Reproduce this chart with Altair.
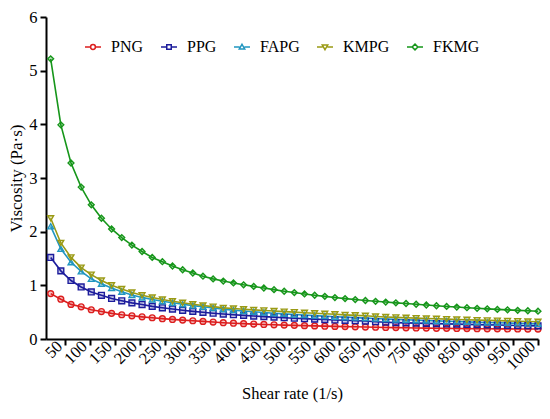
import altair as alt
import pandas as pd

SERIES = ["PNG", "PPG", "FAPG", "KMPG", "FKMG"]
COLORS = ["#dc1e1e", "#1c1c9c", "#2196c0", "#9a9a14", "#16961a"]
SHAPES = ["circle", "square", "triangle-up", "triangle-down", "diamond"]
FILL_OPACITY = [0.25, 0.25, 0.25, 0.25, 1.0]

RATE = [21.4, 41.8, 62.2, 82.6, 102.9, 123.3, 143.7, 164.1, 184.5, 204.9,
        225.3, 245.7, 266.0, 286.4, 306.8, 327.2, 347.6, 368.0, 388.4, 408.8,
        429.1, 449.5, 469.9, 490.3, 510.7, 531.1, 551.5, 571.9, 592.2, 612.6,
        633.0, 653.4, 673.8, 694.2, 714.6, 735.0, 755.3, 775.7, 796.1, 816.5,
        836.9, 857.3, 877.7, 898.1, 918.4, 938.8, 959.2, 979.6, 1000.0]

PNG = [0.846, 0.741, 0.645, 0.600, 0.545, 0.512, 0.478, 0.452, 0.432, 0.413,
       0.396, 0.379, 0.365, 0.352, 0.340, 0.328, 0.316, 0.303, 0.294, 0.286,
       0.278, 0.271, 0.265, 0.259, 0.254, 0.249, 0.244, 0.239, 0.235, 0.231,
       0.227, 0.223, 0.219, 0.215, 0.212, 0.209, 0.206, 0.203, 0.200, 0.198,
       0.196, 0.194, 0.192, 0.190, 0.189, 0.188, 0.187, 0.186, 0.185]

PPG = [1.52, 1.27, 1.09, 0.970, 0.876, 0.815, 0.755, 0.712, 0.673, 0.642,
       0.608, 0.582, 0.558, 0.535, 0.515, 0.497, 0.480, 0.465, 0.452, 0.440,
       0.428, 0.417, 0.407, 0.397, 0.388, 0.379, 0.371, 0.363, 0.355, 0.348,
       0.341, 0.334, 0.322, 0.312, 0.306, 0.301, 0.296, 0.291, 0.286, 0.281,
       0.277, 0.272, 0.268, 0.264, 0.260, 0.256, 0.252, 0.248, 0.244]

FAPG = [2.10, 1.68, 1.43, 1.26, 1.12, 1.03, 0.950, 0.880, 0.820, 0.775,
        0.737, 0.705, 0.675, 0.647, 0.622, 0.600, 0.578, 0.556, 0.538, 0.522,
        0.507, 0.493, 0.480, 0.468, 0.457, 0.446, 0.436, 0.426, 0.416, 0.407,
        0.398, 0.389, 0.381, 0.373, 0.365, 0.358, 0.351, 0.344, 0.337, 0.331,
        0.325, 0.319, 0.313, 0.307, 0.302, 0.297, 0.292, 0.287, 0.282]

KMPG = [2.25, 1.79, 1.52, 1.33, 1.20, 1.09, 1.00, 0.930, 0.865, 0.815,
        0.772, 0.735, 0.704, 0.675, 0.648, 0.625, 0.603, 0.580, 0.567, 0.555,
        0.543, 0.532, 0.521, 0.510, 0.500, 0.490, 0.480, 0.470, 0.460, 0.450,
        0.441, 0.432, 0.420, 0.410, 0.403, 0.396, 0.389, 0.382, 0.376, 0.370,
        0.364, 0.358, 0.352, 0.347, 0.342, 0.337, 0.332, 0.327, 0.322]

FKMG = [5.22, 3.99, 3.28, 2.83, 2.50, 2.25, 2.05, 1.89, 1.75, 1.63,
        1.52, 1.44, 1.36, 1.29, 1.23, 1.17, 1.12, 1.08, 1.045, 1.01,
        0.980, 0.950, 0.920, 0.890, 0.865, 0.840, 0.815, 0.795, 0.772, 0.753,
        0.735, 0.717, 0.702, 0.688, 0.674, 0.661, 0.648, 0.634, 0.620, 0.607,
        0.595, 0.583, 0.572, 0.562, 0.552, 0.543, 0.534, 0.526, 0.518]

X_TICKS = list(range(50, 1001, 50))
Y_TICKS = [0, 1, 2, 3, 4, 5, 6]

LEGEND_PATHS = [
    "M-1,0L-0.3,0M0.3,0L1,0M0.3,0A0.3,0.3,0,1,1,-0.3,0A0.3,0.3,0,1,1,0.3,0Z",
    "M-1,0L-0.28,0M0.28,0L1,0M-0.28,-0.28L0.28,-0.28L0.28,0.28L-0.28,0.28Z",
    "M-1,0L-0.3,0M0.3,0L1,0M0,-0.34L0.34,0.24L-0.34,0.24Z",
    "M-1,0L-0.3,0M0.3,0L1,0M0,0.34L0.34,-0.24L-0.34,-0.24Z",
    "M-1,0L-0.34,0M0.34,0L1,0M0,-0.36L0.36,0L0,0.36L-0.36,0Z",
]

values = {"PNG": PNG, "PPG": PPG, "FAPG": FAPG, "KMPG": KMPG, "FKMG": FKMG}
rows = []
for s in SERIES:
    for r, v in zip(RATE, values[s]):
        rows.append({"rate": r, "viscosity": v, "series": s})
df = pd.DataFrame(rows)
legend_df = pd.DataFrame({"lg": SERIES})

FONT = "Liberation Serif"

x_enc = alt.X("rate:Q",
              scale=alt.Scale(domain=[12, 1000], nice=False, zero=False),
              axis=alt.Axis(title="Shear rate (1/s)", values=X_TICKS, format="d",
                            labelAngle=-45, labelAlign="right", labelBaseline="bottom",
                            labelOverlap=False, labelBound=False, labelFlush=False,
                            labelFont=FONT, titleFont=FONT,
                            labelFontSize=16.5, labelPadding=4, titleFontSize=16.5,
                            titlePadding=13, titleFontWeight="normal"))
y_enc = alt.Y("viscosity:Q",
              scale=alt.Scale(domain=[0, 6], nice=False),
              axis=alt.Axis(title="Viscosity (Pa·s)", values=Y_TICKS, format="d",
                            labelFont=FONT, titleFont=FONT, labelFontSize=16.5,
                            labelPadding=3, labelOverlap=False,
                            titleFontSize=17, titlePadding=3, titleFontWeight="normal"))

cscale = alt.Scale(domain=SERIES, range=COLORS)

lines = alt.Chart(df).mark_line(strokeWidth=1.6).encode(
    x=x_enc, y=y_enc,
    color=alt.Color("series:N", scale=cscale, legend=None),
    detail="series:N",
)

points = alt.Chart(df).mark_point(filled=True, size=34, strokeWidth=1.4, opacity=1).encode(
    x=x_enc, y=y_enc,
    fill=alt.Fill("series:N", scale=cscale, legend=None),
    stroke=alt.Stroke("series:N", scale=cscale, legend=None),
    shape=alt.Shape("series:N", scale=alt.Scale(domain=SERIES, range=SHAPES), legend=None),
    fillOpacity=alt.FillOpacity("series:N", scale=alt.Scale(domain=SERIES, range=FILL_OPACITY), legend=None),
)

legend_layer = alt.Chart(legend_df).mark_point(filled=False, opacity=0, strokeWidth=1.5).encode(
    x=alt.value(100), y=alt.value(100),
    color=alt.Color("lg:N", scale=alt.Scale(domain=SERIES, range=COLORS),
                    legend=alt.Legend(title=None, orient="none", direction="horizontal",
                                      legendX=38, legendY=21, symbolSize=256,
                                      symbolOpacity=1, symbolStrokeWidth=1.5,
                                      labelFontSize=16, labelFont=FONT, labelOffset=9,
                                      columnPadding=14, padding=0, labelColor="black")),
    shape=alt.Shape("lg:N", scale=alt.Scale(domain=SERIES, range=LEGEND_PATHS)),
)

chart = alt.layer(lines, points, legend_layer).resolve_scale(
    color="independent", shape="independent", fill="independent", stroke="independent"
).properties(
    width=492, height=322,
    autosize=alt.AutoSizeParams(type="none"),
    padding={"left": 38, "top": 9, "right": 4, "bottom": 72},
).configure(font=FONT).configure_view(stroke=None).configure_axis(
    grid=False, domainColor="black", domainWidth=2, tickColor="black", tickWidth=2,
    tickSize=6, labelColor="black", titleColor="black", labelFont=FONT, titleFont=FONT,
    labelOverlap=False,
).configure_legend(labelFont=FONT)

chart.save("out.html", embed_options={"renderer": "svg", "actions": False})
